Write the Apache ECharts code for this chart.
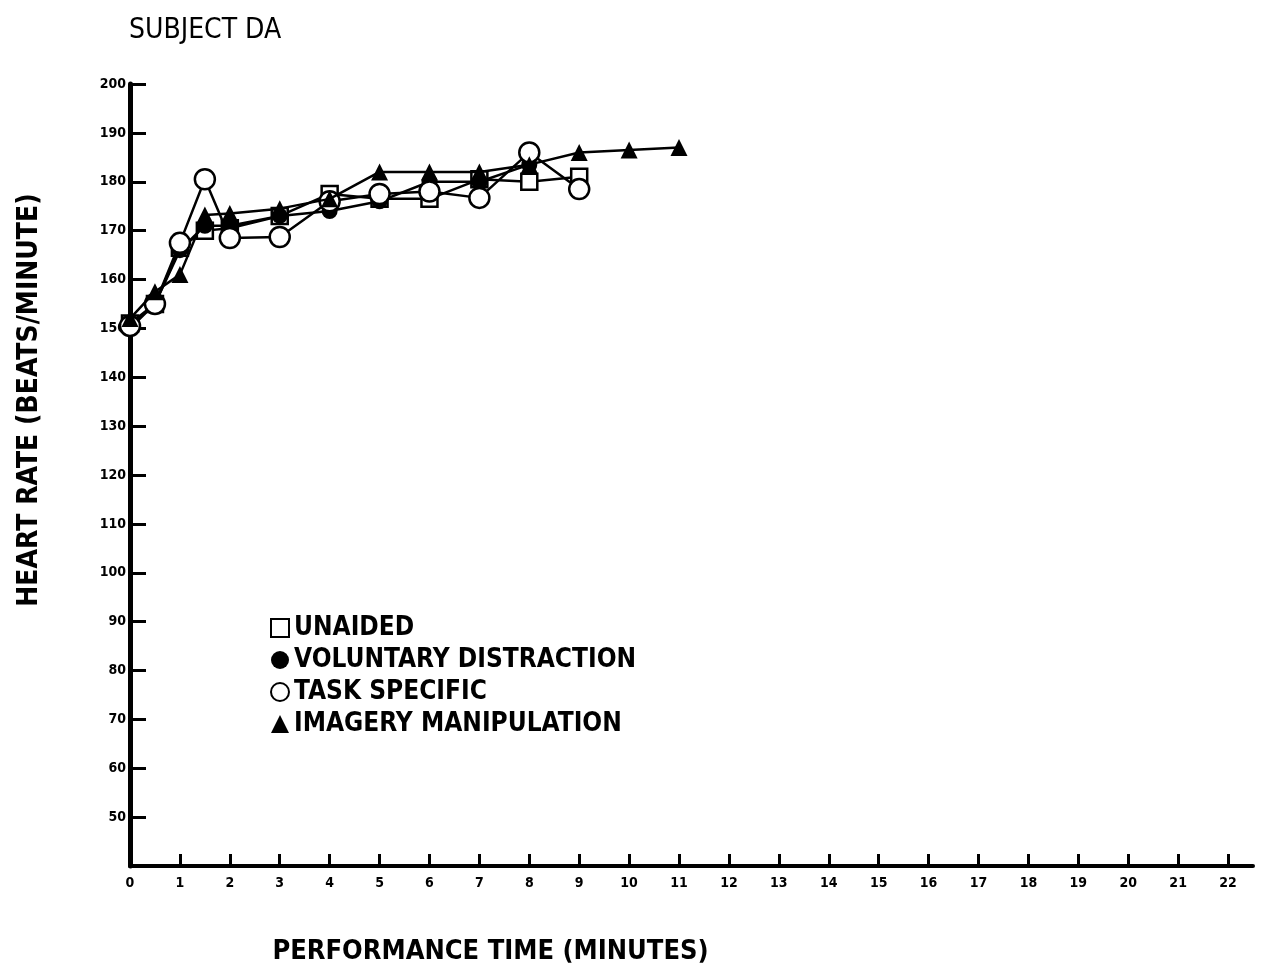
<!DOCTYPE html>
<html><head><meta charset="utf-8">
<script src="https://cdn.jsdelivr.net/npm/echarts@6/dist/echarts.min.js"></script>
<style>html,body{margin:0;padding:0;background:#fff}#c{width:1267px;height:972px}</style>
</head><body><div id="c"></div>
<script>
const seriesNames = ['UNAIDED', 'VOLUNTARY DISTRACTION', 'TASK SPECIFIC', 'IMAGERY MANIPULATION'];
const unaidedTime = [0, 0.5, 1, 1.5, 2, 3, 4, 5, 6, 7, 8, 9];
const unaidedHR = [151, 155, 166.5, 170, 170.5, 173, 177.5, 176.5, 176.5, 180.5, 180, 181];
const distractionTime = [0, 0.5, 1, 1.5, 2, 3, 4, 5, 6, 7, 8];
const distractionHR = [150, 155, 166, 171, 171, 173, 174, 176, 180, 180, 183.5];
const taskTime = [0, 0.5, 1, 1.5, 2, 3, 4, 5, 6, 7, 8, 9];
const taskHR = [150.5, 155, 167.5, 180.5, 168.5, 168.7, 176, 177.5, 178, 176.7, 186, 178.5];
const imageryTime = [0, 0.5, 1, 1.5, 2, 3, 4, 5, 6, 7, 8, 9, 10, 11];
const imageryHR = [152, 157.5, 161, 173.2, 173.5, 174.5, 176.5, 182, 182, 182, 183.5, 186, 186.5, 187];
const xTicks = [0,1,2,3,4,5,6,7,8,9,10,11,12,13,14,15,16,17,18,19,20,21,22];
const yTicks = [50,60,70,80,90,100,110,120,130,140,150,160,170,180,190,200];

const pairs = (xs, ys) => xs.map((x, i) => [x, ys[i]]);
const F = '"DejaVu Sans Condensed", "DejaVu Sans", sans-serif';
const chart = echarts.init(document.getElementById('c'));
const lineStyle = { color: '#000', width: 2.5 };
chart.setOption({
  animation: false,
  backgroundColor: '#fff',
  title: { text: 'SUBJECT DA', left: 124, top: 12, textStyle: { fontFamily: F, fontSize: 28, fontWeight: 'normal', color: '#000' } },
  grid: { left: 130, right: 14, top: 84, bottom: 106, containLabel: false },
  legend: {
    orient: 'vertical', left: 265, top: 610, itemGap: 6, itemWidth: 18, itemHeight: 18,
    textStyle: { fontFamily: F, fontSize: 26, fontWeight: 'bold', color: '#000', padding: [0, 0, 0, 0] },
    data: [
      { name: seriesNames[0], icon: 'rect', itemStyle: { color: '#fff', borderColor: '#000', borderWidth: 2 } },
      { name: seriesNames[1], icon: 'circle', itemStyle: { color: '#000', borderColor: '#000', borderWidth: 0 } },
      { name: seriesNames[2], icon: 'circle', itemStyle: { color: '#fff', borderColor: '#000', borderWidth: 2 } },
      { name: seriesNames[3], icon: 'triangle', itemStyle: { color: '#000', borderColor: '#000', borderWidth: 0 } }
    ]
  },
  xAxis: {
    type: 'value', min: 0, max: 22.5, interval: 1,
    name: 'PERFORMANCE TIME (MINUTES)', nameLocation: 'middle', nameGap: 72,
    nameTextStyle: { fontFamily: F, fontSize: 27, fontWeight: 'bold', color: '#000', padding: [0, 0, 0, -402] },
    axisLine: { lineStyle: { color: '#000', width: 4 } },
    axisTick: { inside: true, length: 12, lineStyle: { color: '#000', width: 3 } },
    axisLabel: { showMaxLabel: false, fontFamily: F, fontSize: 14, fontWeight: 'bold', color: '#000', margin: 10,
      formatter: v => xTicks.includes(v) ? String(v) : '' },
    splitLine: { show: false }
  },
  yAxis: {
    type: 'value', min: 40, max: 200, interval: 10,
    name: 'HEART RATE (BEATS/MINUTE)', nameLocation: 'middle', nameGap: 86, nameRotate: 90,
    nameTextStyle: { fontFamily: F, fontSize: 28, fontWeight: 'bold', color: '#000', padding: [0, 0, 0, 150] },
    axisLine: { lineStyle: { color: '#000', width: 5 } },
    axisTick: { inside: true, length: 16, lineStyle: { color: '#000', width: 3 } },
    axisLabel: { showMinLabel: false, fontFamily: F, fontSize: 14, fontWeight: 'bold', color: '#000', margin: 4,
      formatter: v => yTicks.includes(v) ? String(v) : '' },
    splitLine: { show: false }
  },
  series: [
    { name: seriesNames[0], type: 'line', data: pairs(unaidedTime, unaidedHR), symbol: 'rect', symbolSize: 16,
      lineStyle, itemStyle: { color: '#fff', borderColor: '#000', borderWidth: 2.5 }, z: 2 },
    { name: seriesNames[1], type: 'line', data: pairs(distractionTime, distractionHR), symbol: 'circle', symbolSize: 16,
      lineStyle, itemStyle: { color: '#000', borderColor: '#000', borderWidth: 0 }, z: 3 },
    { name: seriesNames[2], type: 'line', data: pairs(taskTime, taskHR), symbol: 'circle', symbolSize: 20,
      lineStyle, itemStyle: { color: '#fff', borderColor: '#000', borderWidth: 2.5 }, z: 4 },
    { name: seriesNames[3], type: 'line', data: pairs(imageryTime, imageryHR), symbol: 'triangle', symbolSize: 17,
      lineStyle, itemStyle: { color: '#000', borderColor: '#000', borderWidth: 0 }, z: 5 }
  ]
});
</script></body></html>
